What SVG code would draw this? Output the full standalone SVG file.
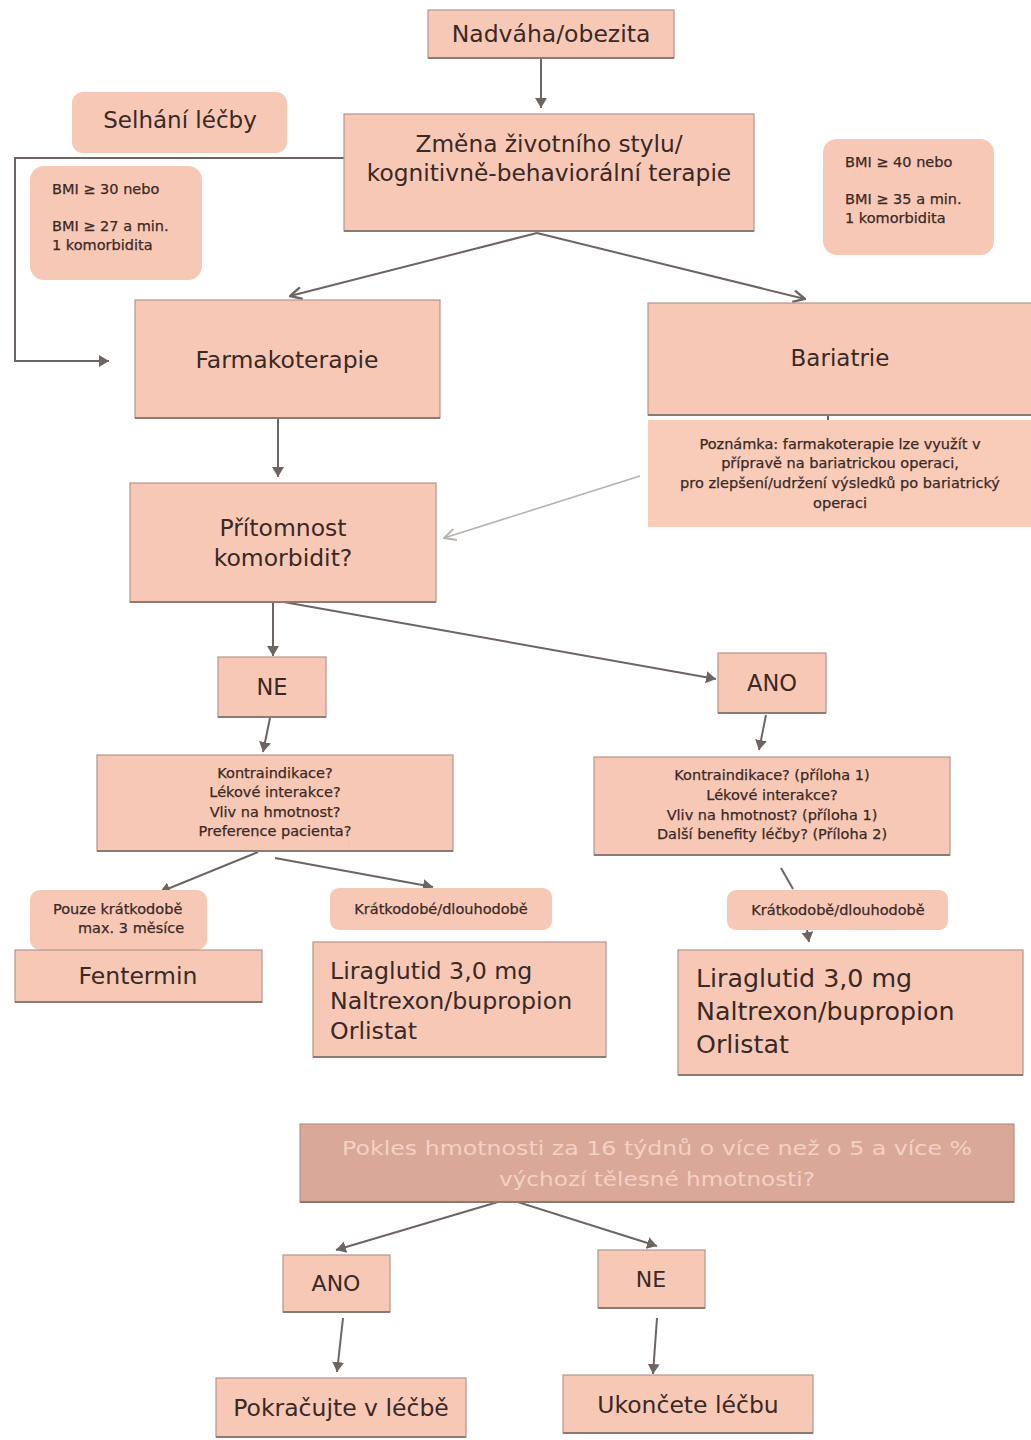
<svg xmlns="http://www.w3.org/2000/svg" width="1031" height="1440" viewBox="0 0 1031 1440">
<defs>
<style>
.box{fill:#f8c8b6;stroke:#b3958a;stroke-width:1.2}
.shade{stroke:#8c7a73;stroke-width:2.2;fill:none}
.lbl{fill:#f8c8b6}
.note{fill:#f9cbb9}
.dec{fill:#d9a898;stroke:#b99085;stroke-width:1.2}
.t{font-family:"DejaVu Sans","Verdana",sans-serif;fill:#3a2925;text-anchor:middle}
.tl{font-family:"DejaVu Sans","Verdana",sans-serif;fill:#3a2925;text-anchor:start}
.s{stroke:#3a2925;stroke-width:0.25}
.tw{font-family:"DejaVu Sans","Verdana",sans-serif;fill:#f3d1c5;text-anchor:middle}
.c{stroke:#6d6562;stroke-width:2;fill:none}
.cd{stroke:#b9b1ae;stroke-width:1.6;fill:none}
</style>
<marker id="ahb" viewBox="0 0 12 12" refX="10" refY="6" markerWidth="12" markerHeight="12" orient="auto" markerUnits="userSpaceOnUse">
<path d="M0,0 L10,6 L0,12 z" fill="#6d6562"/>
</marker>
<marker id="av" viewBox="0 0 12 12" refX="11" refY="6" markerWidth="14" markerHeight="14" orient="auto" markerUnits="userSpaceOnUse">
<path d="M1,1 L11,6 L1,11" fill="none" stroke="#6d6562" stroke-width="2"/>
</marker>
<marker id="ag" viewBox="0 0 12 12" refX="11" refY="6" markerWidth="14" markerHeight="14" orient="auto" markerUnits="userSpaceOnUse">
<path d="M1,1 L11,6 L1,11" fill="none" stroke="#b9b1ae" stroke-width="1.6"/>
</marker>
</defs>
<rect width="1031" height="1440" fill="#ffffff"/>

<g id="connectors">
<path class="c" d="M541,58 L541,108" marker-end="url(#ahb)"/>
<path class="c" d="M344,158 L15,158 L15,361 L109,361" marker-end="url(#ahb)"/>
<path class="c" d="M537,233 L290,296" marker-end="url(#av)"/>
<path class="c" d="M537,233 L805,299" marker-end="url(#av)"/>
<path class="c" d="M278,418 L278,477" marker-end="url(#ahb)"/>
<path class="cd" d="M640,476 L444,538" marker-end="url(#ag)"/>
<path class="c" d="M828,413 L828,421"/>
<path class="c" d="M273,602 L273,656" marker-end="url(#ahb)"/>
<path class="c" d="M278,601 L716,679" marker-end="url(#ahb)"/>
<path class="c" d="M270,718 L263,752" marker-end="url(#ahb)"/>
<path class="c" d="M766,715 L759,750" marker-end="url(#ahb)"/>
<path class="c" d="M258,852 L160,892" marker-end="url(#ahb)"/>
<path class="c" d="M275,858 L433,887" marker-end="url(#ahb)"/>
<path class="c" d="M781,868 L793,889"/>
<path class="c" d="M807,930 L809,942" marker-end="url(#ahb)"/>
<path class="c" d="M508,1199 L336,1250" marker-end="url(#ahb)"/>
<path class="c" d="M508,1199 L657,1246" marker-end="url(#ahb)"/>
<path class="c" d="M343,1318 L337,1372" marker-end="url(#ahb)"/>
<path class="c" d="M657,1318 L653,1374" marker-end="url(#ahb)"/>
</g>

<g id="nadvaha">
<rect class="box" x="428" y="10" width="246" height="48"/>
<line class="shade" x1="428" y1="58" x2="674" y2="58"/>
<text class="t" x="551" y="42" font-size="23.5">Nadváha/obezita</text>
</g>

<g id="selhani">
<rect class="lbl" x="72" y="92" width="215" height="61" rx="11"/>
<text class="t" x="180" y="128" font-size="23">Selhání léčby</text>
</g>

<g id="zmena">
<rect class="box" x="344" y="114" width="410" height="117"/>
<line class="shade" x1="344" y1="231" x2="754" y2="231"/>
<text class="t" x="549" y="152" font-size="23.3">Změna životního stylu/</text>
<text class="t" x="549" y="181" font-size="23.3">kognitivně-behaviorální terapie</text>
</g>

<g id="bmi-left">
<rect class="lbl" x="30" y="166" width="172" height="114" rx="14"/>
<text class="tl s" x="52" y="194" font-size="14.5">BMI ≥ 30 nebo</text>
<text class="tl s" x="52" y="231" font-size="14.5">BMI ≥ 27 a min.</text>
<text class="tl s" x="52" y="250" font-size="14.5">1 komorbidita</text>
</g>

<g id="bmi-right">
<rect class="lbl" x="823" y="139" width="171" height="116" rx="14"/>
<text class="tl s" x="845" y="167" font-size="14.5">BMI ≥ 40 nebo</text>
<text class="tl s" x="845" y="204" font-size="14.5">BMI ≥ 35 a min.</text>
<text class="tl s" x="845" y="223" font-size="14.5">1 komorbidita</text>
</g>

<g id="farmakoterapie">
<rect class="box" x="135" y="300" width="305" height="118"/>
<line class="shade" x1="135" y1="418" x2="440" y2="418"/>
<text class="t" x="287" y="368" font-size="23.5">Farmakoterapie</text>
</g>

<g id="bariatrie">
<rect class="box" x="648" y="303" width="390" height="112"/>
<line class="shade" x1="648" y1="415" x2="1031" y2="415"/>
<text class="t" x="840" y="366" font-size="23">Bariatrie</text>
</g>

<g id="poznamka">
<rect class="note" x="648" y="420" width="390" height="107"/>
<text class="t s" x="840" y="449" font-size="14.5">Poznámka: farmakoterapie lze využít v</text>
<text class="t s" x="840" y="468" font-size="14.5">přípravě na bariatrickou operaci,</text>
<text class="t s" x="840" y="488" font-size="14.5">pro zlepšení/udržení výsledků po bariatrický</text>
<text class="t s" x="840" y="508" font-size="14.5">operaci</text>
</g>

<g id="pritomnost">
<rect class="box" x="130" y="483" width="306" height="119"/>
<line class="shade" x1="130" y1="602" x2="436" y2="602"/>
<text class="t" x="283" y="536" font-size="23.5">Přítomnost</text>
<text class="t" x="283" y="566" font-size="23.5">komorbidit?</text>
</g>

<g id="ne1">
<rect class="box" x="218" y="657" width="108" height="60"/>
<line class="shade" x1="218" y1="717" x2="326" y2="717"/>
<text class="t" x="272" y="695" font-size="22.5">NE</text>
</g>

<g id="ano1">
<rect class="box" x="718" y="653" width="108" height="60"/>
<line class="shade" x1="718" y1="713" x2="826" y2="713"/>
<text class="t" x="772" y="691" font-size="22.5">ANO</text>
</g>

<g id="kontra-left">
<rect class="box" x="97" y="755" width="356" height="96"/>
<line class="shade" x1="97" y1="851" x2="453" y2="851"/>
<text class="t s" x="275" y="778" font-size="14.5">Kontraindikace?</text>
<text class="t s" x="275" y="797" font-size="14.5">Lékové interakce?</text>
<text class="t s" x="275" y="817" font-size="14.5">Vliv na hmotnost?</text>
<text class="t s" x="275" y="836" font-size="14.5">Preference pacienta?</text>
</g>

<g id="kontra-right">
<rect class="box" x="594" y="757" width="356" height="98"/>
<line class="shade" x1="594" y1="855" x2="950" y2="855"/>
<text class="t s" x="772" y="780" font-size="14.5">Kontraindikace? (příloha 1)</text>
<text class="t s" x="772" y="800" font-size="14.5">Lékové interakce?</text>
<text class="t s" x="772" y="820" font-size="14.5">Vliv na hmotnost? (příloha 1)</text>
<text class="t s" x="772" y="839" font-size="14.5">Další benefity léčby? (Příloha 2)</text>
</g>

<g id="pouze">
<rect class="lbl" x="30" y="890" width="177" height="60" rx="10"/>
<text class="tl s" x="53" y="914" font-size="14.5">Pouze krátkodobě</text>
<text class="tl s" x="78" y="933" font-size="14.5">max. 3 měsíce</text>
</g>

<g id="fentermin">
<rect class="box" x="15" y="950" width="247" height="52"/>
<line class="shade" x1="15" y1="1002" x2="262" y2="1002"/>
<text class="t" x="138" y="984" font-size="23.5">Fentermin</text>
</g>

<g id="kratko-left">
<rect class="lbl" x="330" y="888" width="222" height="42" rx="9"/>
<text class="t s" x="441" y="914" font-size="14.5">Krátkodobé/dlouhodobě</text>
</g>

<g id="lira-left">
<rect class="box" x="313" y="942" width="293" height="115"/>
<line class="shade" x1="313" y1="1057" x2="606" y2="1057"/>
<text class="tl" x="330" y="979" font-size="23.7">Liraglutid 3,0 mg</text>
<text class="tl" x="330" y="1009" font-size="23.7">Naltrexon/bupropion</text>
<text class="tl" x="330" y="1039" font-size="23.7">Orlistat</text>
</g>

<g id="kratko-right">
<rect class="lbl" x="727" y="890" width="221" height="40" rx="9"/>
<text class="t s" x="838" y="915" font-size="14.5">Krátkodobě/dlouhodobě</text>
</g>

<g id="lira-right">
<rect class="box" x="678" y="950" width="345" height="125"/>
<line class="shade" x1="678" y1="1075" x2="1023" y2="1075"/>
<text class="tl" x="696" y="987" font-size="25.3">Liraglutid 3,0 mg</text>
<text class="tl" x="696" y="1020" font-size="25.3">Naltrexon/bupropion</text>
<text class="tl" x="696" y="1053" font-size="25.3">Orlistat</text>
</g>

<g id="pokles">
<rect class="dec" x="300" y="1124" width="714" height="78"/>
<line class="shade" x1="300" y1="1202" x2="1014" y2="1202" stroke="#a88379"/>
<text class="tw" x="657" y="1155" font-size="20" textLength="630" lengthAdjust="spacingAndGlyphs">Pokles hmotnosti za 16 týdnů o více než o 5 a více %</text>
<text class="tw" x="657" y="1186" font-size="20" textLength="316" lengthAdjust="spacingAndGlyphs">výchozí tělesné hmotnosti?</text>
</g>

<g id="ano2">
<rect class="box" x="283" y="1255" width="107" height="57"/>
<line class="shade" x1="283" y1="1312" x2="390" y2="1312"/>
<text class="t" x="336" y="1291" font-size="22">ANO</text>
</g>

<g id="ne2">
<rect class="box" x="598" y="1250" width="107" height="58"/>
<line class="shade" x1="598" y1="1308" x2="705" y2="1308"/>
<text class="t" x="651" y="1287" font-size="22">NE</text>
</g>

<g id="pokracujte">
<rect class="box" x="216" y="1378" width="250" height="59"/>
<line class="shade" x1="216" y1="1437" x2="466" y2="1437"/>
<text class="t" x="341" y="1416" font-size="23.5">Pokračujte v léčbě</text>
</g>

<g id="ukoncete">
<rect class="box" x="563" y="1375" width="250" height="58"/>
<line class="shade" x1="563" y1="1433" x2="813" y2="1433"/>
<text class="t" x="688" y="1413" font-size="23.5">Ukončete léčbu</text>
</g>
</svg>
